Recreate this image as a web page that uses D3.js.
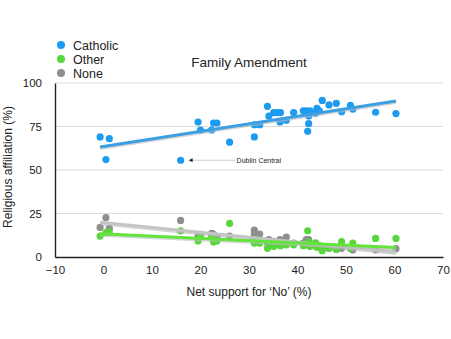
<!DOCTYPE html>
<html>
<head>
<meta charset="utf-8">
<script src="https://cdn.jsdelivr.net/npm/d3@7"></script>
<style>
  body { margin: 0; background: #fff; }
  text { font-family: "Liberation Sans", Arial, sans-serif; fill: #222; }
</style>
</head>
<body>
<script>
// net support for 'No' per constituency, with religious affiliation shares
var netNo    = [-0.7, 0.5, 1.2, 15.9, 19.5, 20, 22.3, 22.7, 23.4, 26, 31.1, 31.1, 32.2, 33.8, 34.1, 35.1, 35.8, 36.5, 36.4, 37.7, 39.2, 41.2, 41.8, 42.3, 42.1, 42.3, 42.6, 43.7, 44, 44.5, 45.1, 46.5, 48, 49.1, 50.9, 51.4, 56.1, 60.3];
var catholic = [69, 56, 68, 55.6, 77.6, 73, 73, 77, 77, 66, 69, 76, 76, 86.6, 81, 83, 83, 83, 77.6, 78.6, 83, 84, 84, 81, 72.2, 76.6, 84, 82.6, 85.4, 84, 90, 87.4, 88.3, 83.5, 87.2, 84.9, 83.2, 82.4];
var other    = [12, 14, 14.4, 15, 9.2, 11.7, 12, 8.6, 9.2, 19.3, 8, 10, 8, 5, 7, 6, 7.5, 6.5, 8, 7, 7, 6.5, 7, 8.5, 15.1, 8, 6, 8.2, 5.5, 6.5, 3.6, 5, 4.5, 8.8, 5, 8, 10.7, 10.7];
var none     = [17, 22.6, 16.5, 21, 12, 13, 13.6, 13, 11.5, 12, 15.5, 13, 13.2, 8, 10, 9, 8.5, 9, 10, 11.5, 8, 8, 10, 10, 9.8, 9, 7, 7, 7, 6, 5, 5, 4.5, 5, 5, 4, 4, 4.8];

var seriesNames = ['Catholic', 'Other', 'None'];
var xTicks = [-10, 0, 10, 20, 30, 40, 50, 60, 70];
var yTicks = [0, 25, 50, 75, 100];

var pointColors = ['#1d9bf0', '#58d63b', '#8f8f8f'];
var lineColors = ['#3b9fe2', '#62e43c', '#c4c4c4'];

var svg = d3.select('body').append('svg')
    .attr('width', 451)
    .attr('height', 339);

var x = d3.scaleLinear().domain([-10, 70]).range([55, 443]);
var y = d3.scaleLinear().domain([0, 100]).range([257, 83]);

// grid
svg.append('g').selectAll('line')
    .data(yTicks.filter(function(d){return d > 0}))
    .enter().append('line')
    .attr('x1', 55).attr('x2', 443)
    .attr('y1', function(d){return y(d)}).attr('y2', function(d){return y(d)})
    .attr('stroke', '#dcdcdc').attr('stroke-width', 1);

// axes
var xAxis = svg.append('g')
    .attr('transform', 'translate(0,257)')
    .call(d3.axisBottom(x).tickValues(xTicks).tickSize(0).tickPadding(9));
var yAxis = svg.append('g')
    .attr('transform', 'translate(55,0)')
    .call(d3.axisLeft(y).tickValues(yTicks).tickSize(0).tickPadding(13));
[xAxis, yAxis].forEach(function(a){
	a.select('.domain').attr('stroke', '#222').attr('stroke-width', 1.4);
	a.selectAll('text').style('font-size', '11.5px').style('font-family', '"Liberation Sans", Arial, sans-serif').attr('fill', '#222');
});

svg.append('text')
    .attr('x', 249).attr('y', 296)
    .attr('text-anchor', 'middle')
    .style('font-size', '12px')
    .text('Net support for \u2018No\u2019 (%)');

svg.append('text')
    .attr('transform', 'translate(12,167) rotate(-90)')
    .attr('text-anchor', 'middle')
    .style('font-size', '12px')
    .text('Religious affiliation (%)');

svg.append('text')
    .attr('x', 249).attr('y', 67)
    .attr('text-anchor', 'middle')
    .style('font-size', '13.5px')
    .text('Family Amendment');

var seriesValues = [catholic, other, none];

// regression line for a series
var fit = function(ys){
	var mx = d3.mean(netNo), my = d3.mean(ys);
	var sxy = d3.sum(netNo, function(v, i){return (v - mx) * (ys[i] - my)});
	var sxx = d3.sum(netNo, function(v){return (v - mx) * (v - mx)});
	var b = sxy / sxx;
	var ext = d3.extent(netNo);
	return ext.map(function(v){return [v, my + b * (v - mx)]});
};

var line = d3.line()
    .x(function(d){return x(d[0])})
    .y(function(d){return y(d[1])});

// draw order: none, other, catholic on top
[2, 1, 0].forEach(function(s){
	var g = svg.append('g');
	g.selectAll('circle')
	    .data(seriesValues[s])
	    .enter().append('circle')
	    .attr('cx', function(d, i){return x(netNo[i])})
	    .attr('cy', function(d){return y(d)})
	    .attr('r', 3.6)
	    .attr('fill', pointColors[s]);
});

[2, 1, 0].forEach(function(s){
	var pts = fit(seriesValues[s]);
	svg.append('path')
	    .attr('d', line(pts))
	    .attr('transform', 'translate(0,1.5)')
	    .attr('stroke', '#bbb').attr('stroke-opacity', 0.6)
	    .attr('stroke-width', 3).attr('fill', 'none');
	svg.append('path')
	    .attr('d', line(pts))
	    .attr('stroke', lineColors[s])
	    .attr('stroke-width', 3).attr('fill', 'none');
});

// annotation for the outlier
var dc = 3;
var ax = x(netNo[dc]) + 8, ay = y(catholic[dc]);
svg.append('line')
    .attr('x1', ax + 3).attr('x2', ax + 46)
    .attr('y1', ay).attr('y2', ay)
    .attr('stroke', '#555').attr('stroke-width', 0.6)
    .attr('stroke-dasharray', '1,1');
svg.append('path')
    .attr('d', 'M' + ax + ',' + ay + 'l4,-2l0,4z')
    .attr('fill', '#222');
svg.append('text')
    .attr('x', ax + 48).attr('y', ay + 2.5)
    .style('font-size', '7px')
    .text('Dublin Central');

// legend
var legend = svg.append('g').selectAll('g')
    .data(seriesNames)
    .enter().append('g')
    .attr('transform', function(d, i){return 'translate(61,' + (45 + i * 14) + ')'});
legend.append('circle')
    .attr('r', 4)
    .attr('fill', function(d, i){return pointColors[i]});
legend.append('text')
    .attr('x', 12).attr('y', 4.5)
    .style('font-size', '12.5px')
    .text(function(d){return d});
</script>
</body>
</html>
